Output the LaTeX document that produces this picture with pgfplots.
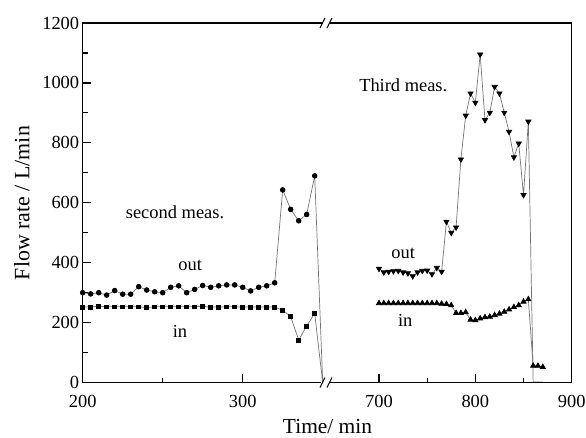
\documentclass[border=0pt]{standalone}
\usepackage{pgfplots}
\pgfplotsset{compat=1.18}
\usepackage{pgfplotstable}
\usepackage{fontspec}
\setmainfont{Liberation Serif}

\pgfplotstableread{
t v
200 300
205 296
210 300
215 292
220 307
225 295
230 295
235 320
240 309
245 303
250 300
255 318
260 323
265 300
270 311
275 324
280 318
285 323
290 326
295 326
300 318
305 306
310 318
315 323
320 333
325 643
330 578
335 540
340 561
345 690
350 0
}\outtwo

\pgfplotstableread{
t v
200 252
205 252
210 255
215 253
220 253
225 253
230 253
235 253
240 250
245 253
250 253
255 253
260 253
265 253
270 253
275 255
280 252
285 252
290 253
295 253
300 252
305 252
310 252
315 252
320 252
325 242
330 220
335 142
340 189
345 231
350 0
}\intwo

\pgfplotstableread{
t v
700 380
705 368
710 370
715 372
720 373
725 368
730 365
735 355
740 368
745 373
750 374
755 362
760 383
765 370
770 537
775 500
780 518
785 745
790 891
795 965
800 934
805 1095
810 876
815 901
820 987
825 965
830 901
835 837
840 752
845 798
850 626
855 871
860 2
865 2
870 2
}\outthree

\pgfplotstableread{
t v
700 265
705 265
710 265
715 265
720 265
725 265
730 265
735 265
740 265
745 265
750 265
755 265
760 265
765 263
770 262
775 258
780 232
785 232
790 235
795 210
800 208
805 214
810 218
815 220
820 225
825 230
830 236
835 244
840 252
845 258
850 270
855 278
860 56
865 56
870 52
}\inthree

\pgfplotsset{
  myaxis/.style={
    scale only axis,
    height=359.6bp,
    ymin=0, ymax=1200,
    tick align=inside,
    xtick pos=left,
    ytick pos=left,
    major tick length=8.5bp,
    minor tick length=5bp,
    axis line style={draw=none},
    every tick/.style={draw=black, line width=1.2pt},
    /pgf/number format/assume math mode=true,
    ticklabel style={font=\fontsize{18.5}{20}\selectfont},
    xticklabel style={yshift=-9bp},
    /pgf/number format/1000 sep={},
    clip=false,
  },
}
\tikzset{
  dline/.style={line width=0.7pt, black!55},
  axframe/.style={line width=1.2pt, black, line cap=rect},
}

\begin{document}
\begin{tikzpicture}
\useasboundingbox (0,0) rectangle (586bp,438bp);

\begin{axis}[myaxis,
  at={(82.7bp,55.4bp)}, anchor=south west,
  width=240bp,
  xmin=200, xmax=350,
  xtick={200,300}, minor xtick={250},
  ytick={0,200,...,1200}, minor ytick={100,300,...,1100},
]
\addplot[dline, mark=*, mark size=2.4pt, mark options={black, fill=black, solid},
  mark indices={1,...,30}] table[x=t,y=v] {\outtwo};
\addplot[dline, mark=square*, mark size=1.9pt, mark options={black, fill=black, solid},
  mark indices={1,...,30}] table[x=t,y=v] {\intwo};
\draw[axframe] (rel axis cs:0.99,0) -- (rel axis cs:0,0) -- (rel axis cs:0,1) -- (rel axis cs:1,1);
\node[font=\fontsize{18.5}{20}\selectfont] at (axis cs:257.7,569) {second meas.};
\node[font=\fontsize{18.5}{20}\selectfont] at (axis cs:267.2,392) {out};
\node[font=\fontsize{18.5}{20}\selectfont] at (axis cs:260.8,170) {in};
\end{axis}

\begin{axis}[myaxis,
  at={(330.8bp,55.4bp)}, anchor=south west,
  width=240.9bp,
  xmin=650, xmax=900,
  ytick=\empty,
  xtick={700,800,900}, minor xtick={750,850},
]
\addplot[dline, mark=triangle*, mark size=3pt, mark options={black, fill=black, solid, rotate=180},
  mark indices={1,...,32}] table[x=t,y=v] {\outthree};
\addplot[dline, mark=triangle*, mark size=3pt, mark options={black, fill=black, solid}]
  table[x=t,y=v] {\inthree};
\draw[axframe] (rel axis cs:0,1) -- (rel axis cs:1,1) -- (rel axis cs:1,0) -- (rel axis cs:0,0);
\node[font=\fontsize{18.5}{20}\selectfont] at (axis cs:725.2,993) {Third meas.};
\node[font=\fontsize{18.5}{20}\selectfont] at (axis cs:725.2,431) {out};
\node[font=\fontsize{18.5}{20}\selectfont] at (axis cs:727.2,209) {in};
\end{axis}

% axis break marks
\foreach \yy in {55.4, 415} {
  \draw[line width=1pt, black] (320bp,\yy bp-5bp) -- (325bp,\yy bp+5bp);
  \draw[line width=1pt, black] (327bp,\yy bp-5bp) -- (332bp,\yy bp+5bp);
}

\node[font=\fontsize{21.5}{24}\selectfont, anchor=base] at (327.5bp,5bp) {Time/ min};
\node[font=\fontsize{22}{24}\selectfont, rotate=90] at (22bp,235bp) {Flow rate / L/min};
\end{tikzpicture}
\end{document}
